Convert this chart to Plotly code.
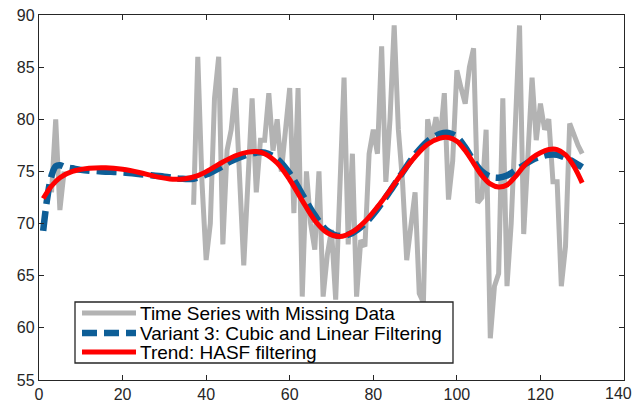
import plotly.graph_objects as go

# ---------------- data ----------------
gray_x_early = [3, 4, 5, 6]
gray_early = [73.0, 80.0, 71.3, 75.0]

gray_x_main = list(range(37, 131))
gray_main = [71.8, 86, 74, 66.5, 70, 82, 86, 68, 77, 79,
             83, 74, 66, 74, 82, 73, 78, 78, 82.5, 77,
             80, 75, 79, 83, 71, 83, 63, 75, 70, 67.5,
             75, 63, 67, 69.4, 62.7, 72, 84, 68, 76.7, 63,
             68.4, 67.8, 76.7, 79, 76.7, 87, 74, 80, 89, 79,
             74, 66.5, 70, 73, 63.3, 62.4, 80, 78, 80.2, 78,
             82.5, 72.3, 76, 84.7, 83, 81.5, 85, 86.8, 72, 72.5,
             79, 59, 64, 65.2, 82, 64, 70, 80, 89, 69,
             76, 84, 78, 81.5, 79, 80, 74, 74, 64, 67.8,
             79.6, 78.5, 77.5, 76.7]

variant_x = [1, 2, 3, 4, 5, 6, 8, 10, 15, 20, 25, 30, 34, 37, 40, 43, 46, 49,
             52, 54, 57, 60, 63, 66, 69, 72, 75, 78, 81, 84, 87, 90, 93, 96,
             98, 100, 102, 104, 106, 108, 110, 112, 114, 116, 118, 120, 122,
             124, 126, 128, 130]
variant = [69.3, 72.5, 74.6, 75.5, 75.6, 75.45, 75.3, 75.15, 75.0, 74.9, 74.7,
           74.5, 74.3, 74.3, 74.7, 75.3, 76.0, 76.5, 76.8, 76.8, 76.2, 74.8,
           72.8, 70.8, 69.3, 68.8, 69.1, 70.0, 71.4, 73.1, 74.9, 76.6, 77.9,
           78.6, 78.7, 78.3, 77.3, 76.0, 75.0, 74.5, 74.4, 74.6, 75.1, 75.6,
           76.1, 76.4, 76.6, 76.6, 76.3, 75.9, 75.4]

trend_x = [1, 3, 5, 8, 12, 16, 20, 24, 28, 32, 35, 38, 41, 44, 47, 50, 52, 54,
           57, 60, 63, 66, 69, 72, 75, 78, 81, 84, 87, 90, 93, 96, 98, 100,
           102, 104, 106, 108, 110, 112, 114, 116, 118, 120, 122, 124, 126,
           128, 130]
trend = [72.4, 73.6, 74.4, 75.0, 75.3, 75.35, 75.2, 74.9, 74.5, 74.25, 74.3,
         74.6, 75.2, 75.9, 76.5, 76.85, 76.9, 76.7, 75.8, 74.2, 72.2, 70.3,
         69.1, 68.75, 69.2, 70.2, 71.6, 73.2, 74.9, 76.4, 77.6, 78.2, 78.25,
         77.9, 77.0, 75.8, 74.6, 73.8, 73.5, 73.7, 74.5, 75.5, 76.3, 76.8,
         77.1, 77.1, 76.6, 75.5, 73.9]

legend_labels = ["Time Series with Missing Data",
                 "Variant 3: Cubic and Linear Filtering",
                 "Trend: HASF filtering"]

x_ticks = [0, 20, 40, 60, 80, 100, 120, 140]
x_ticktext = ["0", "20", "40", "60", "80", "100", "120", "140"]
y_ticks = [55, 60, 65, 70, 75, 80, 85, 90]

# ---------------- styles ----------------
GRAY = "#b3b3b3"
BLUE = "#0d5e97"
RED = "#ff0000"
AXC = "#262626"
FONT = "Liberation Sans, Arial, Helvetica, sans-serif"

gray_x = gray_x_early + [None] + gray_x_main
gray_y = gray_early + [None] + gray_main

fig = go.Figure()
fig.add_trace(go.Scatter(x=gray_x, y=gray_y, mode="lines",
                         line=dict(color=GRAY, width=5),
                         connectgaps=False, name=legend_labels[0],
                         showlegend=False))
fig.add_trace(go.Scatter(x=variant_x, y=variant, mode="lines",
                         line=dict(color=BLUE, width=6.5, dash="20px,7px",
                                   shape="spline", smoothing=1.0),
                         name=legend_labels[1], showlegend=False))
fig.add_trace(go.Scatter(x=trend_x, y=trend, mode="lines",
                         line=dict(color=RED, width=5, shape="spline",
                                   smoothing=1.0),
                         name=legend_labels[2], showlegend=False))

# ---- manual legend (paper coordinates) ----
L, R, T, B = 39, 624, 15, 380
W, H = R - L, B - T


def px(xp):
    return (xp - L) / W


def py(yp):
    return (B - yp) / H


shapes = [dict(type="rect", xref="paper", yref="paper",
               x0=px(75), x1=px(453), y0=py(363), y1=py(302),
               line=dict(color=AXC, width=1.3), fillcolor="white",
               layer="above")]
rows = [313, 333, 352]
styles = [dict(color=GRAY, width=5),
          dict(color=BLUE, width=6.5, dash="15px,7px"),
          dict(color=RED, width=5)]
annotations = []
for lab, ry, st in zip(legend_labels, rows, styles):
    shapes.append(dict(type="line", xref="paper", yref="paper",
                       x0=px(82), x1=px(136), y0=py(ry), y1=py(ry),
                       line=st, layer="above"))
    annotations.append(dict(xref="paper", yref="paper", x=px(138), y=py(ry),
                            xanchor="left", yanchor="middle", text=lab,
                            showarrow=False,
                            font=dict(family=FONT, size=19, color="#000000")))

# last x tick label kept inside the page edge
tickfont = dict(family=FONT, size=16, color=AXC)
annotations.append(dict(xref="paper", yref="y", x=px(634), y=y_ticks[0],
                        xanchor="right", yanchor="top", yshift=-3,
                        text=x_ticktext[-1], showarrow=False,
                        font=tickfont))

axis_common = dict(showline=True, linecolor=AXC, linewidth=1.3,
                   mirror="ticks", ticks="inside", ticklen=5, tickwidth=1,
                   tickcolor=AXC, showgrid=False, zeroline=False,
                   automargin=False, tickfont=tickfont)

fig.update_layout(
    width=635, height=404,
    margin=dict(l=L, r=635 - R, t=T, b=404 - B),
    paper_bgcolor="white", plot_bgcolor="white",
    showlegend=False,
    xaxis=dict(range=[0, 140], tickvals=x_ticks,
               ticktext=x_ticktext[:-1] + [""], **axis_common),
    yaxis=dict(range=[55, 90], tickvals=y_ticks, **axis_common),
    shapes=shapes, annotations=annotations,
)

fig.write_html("out.html",
               config={"displayModeBar": False},
               post_script="document.body.style.margin='0';"
                           "document.body.style.overflow='hidden';")
